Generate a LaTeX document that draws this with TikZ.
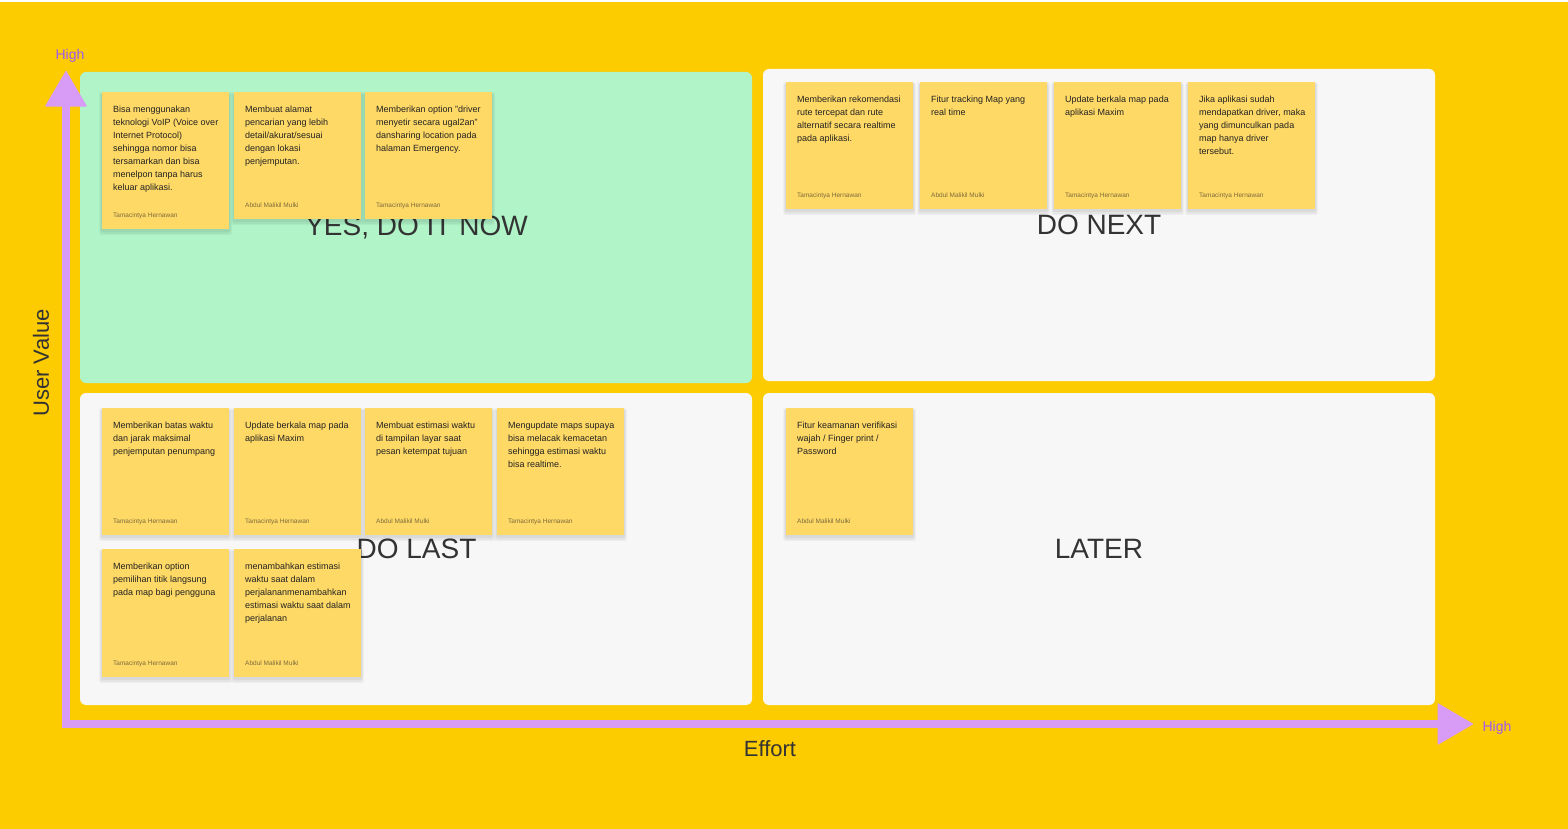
\documentclass[tikz,border=0pt]{standalone}
\usepackage{fontspec}
\setmainfont{Liberation Sans}
\usetikzlibrary{arrows.meta}
\definecolor{bg}{HTML}{FCCB00}
\definecolor{quadgreen}{HTML}{B0F4C8}
\definecolor{quadgray}{HTML}{F7F7F7}
\definecolor{notefill}{HTML}{FFD966}
\definecolor{axiscol}{HTML}{D99CF6}
\definecolor{highcol}{HTML}{9E5CF2}
\definecolor{labelcol}{HTML}{333333}
\definecolor{authorcol}{HTML}{7D6B3C}
\definecolor{notetxt}{HTML}{222222}
\tikzset{
  quadlabel/.style={font=\fontsize{28}{28}\selectfont, text=labelcol, inner sep=0pt},
  note/.style={fill=notefill, draw=none, anchor=north west, inner sep=0pt, minimum width=127pt},
  notetext/.style={font=\fontsize{9}{13}\selectfont, text=notetxt, align=left, anchor=north west, inner sep=0pt},
  author/.style={font=\fontsize{6.5}{8}\selectfont, text=authorcol, anchor=base west, inner sep=0pt},
  axis/.style={line width=8pt, draw=axiscol, line join=miter,
    {Triangle[length=36pt,width=42pt,line width=1pt,round]}-{Triangle[length=36pt,width=42pt,line width=1pt,round]}},
  highlabel/.style={font=\fontsize{14}{14}\selectfont, text=highcol, inner sep=0pt},
  axislabel/.style={font=\fontsize{22}{22}\selectfont, text=labelcol, inner sep=0pt},
  shadowlayer/.style={fill=black, opacity=#1, rounded corners=2pt}
}
\newcommand\sticky[6]{%
  \fill[shadowlayer=.03] (#2-3,#3) rectangle ++(133,#4+6);
  \fill[shadowlayer=.04] (#2-2,#3+1) rectangle ++(131,#4+4);
  \fill[shadowlayer=.05] (#2-1,#3+1) rectangle ++(129,#4+2);
  \node[note, minimum height=#4pt] (#1) at (#2,#3) {};
  \node[notetext] (#1-t) at ([shift={(11,13)}]#1.north west) {\vrule height7pt width0pt #5};
  \node[author] (#1-a) at ([shift={(11,-12)}]#1.south west) {#6};
}
\begin{document}
\begin{tikzpicture}[x=1pt,y=-1pt]
\useasboundingbox (0,0) rectangle (1568,829);
\fill[bg] (0,0) rectangle (1568,829);
\fill[white] (0,0) rectangle (1568,2);
% quadrants
\fill[quadgreen, rounded corners=6pt] (80,72) rectangle (752,383);
\fill[quadgray, rounded corners=6pt] (763,69) rectangle (1435,381);
\fill[quadgray, rounded corners=6pt] (80,393) rectangle (752,705);
\fill[quadgray, rounded corners=6pt] (763,393) rectangle (1435,705);
\node[quadlabel] (lbl-now) at (416.5,228) {YES, DO IT NOW};
\node[quadlabel] (lbl-next) at (1099,225) {DO NEXT};
\node[quadlabel] (lbl-last) at (416.5,549) {DO LAST};
\node[quadlabel] (lbl-later) at (1099,549) {LATER};
% axes
\coordinate (O) at (66,724);
\coordinate (ytip) at (66,71);
\coordinate (xtip) at (1473,724);
\draw[axis] (ytip) -- (O) -- (xtip);
\node[highlabel] (high-y) at (70,56) {High};
\node[highlabel] (high-x) at (1497,728) {High};
\node[axislabel, rotate=90] (uv) at (41,363) {User Value};
\node[axislabel] (eff) at (770,749) {Effort};
% notes: top-left
\sticky{n1}{102}{92}{137}{Bisa menggunakan\\teknologi VoIP (Voice over\\Internet Protocol)\\sehingga nomor bisa\\tersamarkan dan bisa\\menelpon tanpa harus\\keluar aplikasi.}{Tamacintya Hernawan}
\sticky{n2}{234}{92}{127}{Membuat alamat\\pencarian yang lebih\\detail/akurat/sesuai\\dengan lokasi\\penjemputan.}{Abdul Malikil Mulki}
\sticky{n3}{365}{92}{127}{Memberikan option "driver\\menyetir secara ugal2an"\\dansharing location pada\\halaman Emergency.}{Tamacintya Hernawan}
% top-right
\sticky{n4}{786}{82}{127}{Memberikan rekomendasi\\rute tercepat dan rute\\alternatif secara realtime\\pada aplikasi.}{Tamacintya Hernawan}
\sticky{n5}{920}{82}{127}{Fitur tracking Map yang\\real time}{Abdul Malikil Mulki}
\sticky{n6}{1054}{82}{127}{Update berkala map pada\\aplikasi Maxim}{Tamacintya Hernawan}
\sticky{n7}{1188}{82}{127}{Jika aplikasi sudah\\mendapatkan driver, maka\\yang dimunculkan pada\\map hanya driver\\tersebut.}{Tamacintya Hernawan}
% bottom-left
\sticky{n8}{102}{408}{127}{Memberikan batas waktu\\dan jarak maksimal\\penjemputan penumpang}{Tamacintya Hernawan}
\sticky{n9}{234}{408}{127}{Update berkala map pada\\aplikasi Maxim}{Tamacintya Hernawan}
\sticky{n10}{365}{408}{127}{Membuat estimasi waktu\\di tampilan layar saat\\pesan ketempat tujuan}{Abdul Malikil Mulki}
\sticky{n11}{497}{408}{127}{Mengupdate maps supaya\\bisa melacak kemacetan\\sehingga estimasi waktu\\bisa realtime.}{Tamacintya Hernawan}
\sticky{n12}{102}{549}{128}{Memberikan option\\pemilihan titik langsung\\pada map bagi pengguna}{Tamacintya Hernawan}
\sticky{n13}{234}{549}{128}{menambahkan estimasi\\waktu saat dalam\\perjalananmenambahkan\\estimasi waktu saat dalam\\perjalanan}{Abdul Malikil Mulki}
% bottom-right
\sticky{n14}{786}{408}{127}{Fitur keamanan verifikasi\\wajah / Finger print /\\Password}{Abdul Malikil Mulki}
\end{tikzpicture}
\end{document}
